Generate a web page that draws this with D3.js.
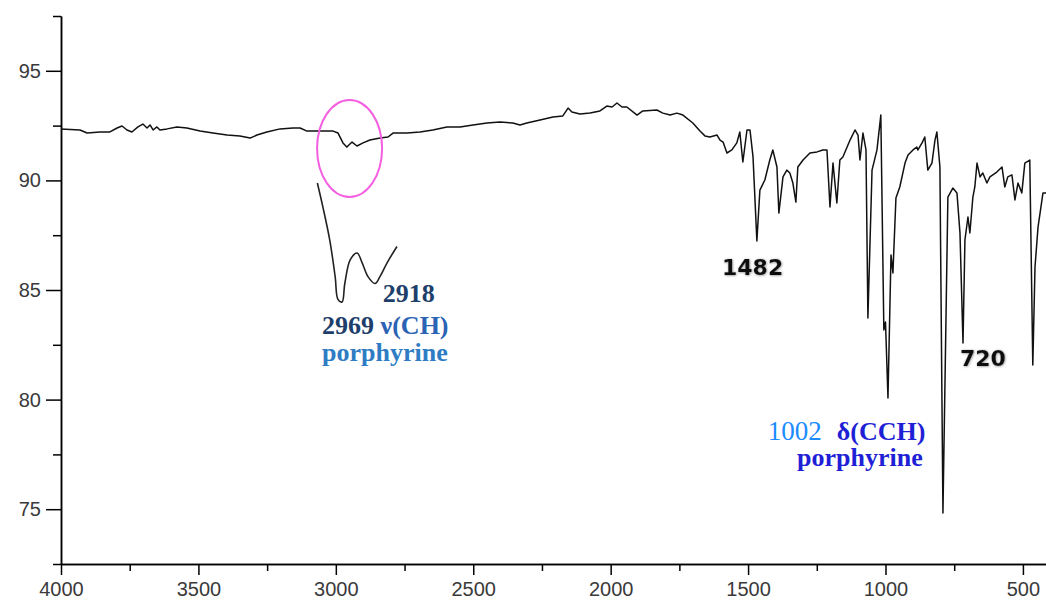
<!DOCTYPE html>
<html>
<head>
<meta charset="utf-8">
<script src="https://cdn.jsdelivr.net/npm/d3@7"></script>
<style>
  body { margin: 0; background: #fff; }
  .axis path, .axis line { stroke: #000; stroke-width: 1.5; }
  .axis text { font-family: "Liberation Sans", Arial, sans-serif; fill: #3a3a3a; }
</style>
</head>
<body>
<script>
// IR spectrum, % transmittance vs wavenumber (cm-1)
var wavenumber = [4000, 3931, 3905, 3858, 3822, 3796, 3778, 3760, 3742, 3720, 3702, 3687, 3676, 3665, 3651, 3640,
  3614, 3578, 3542, 3494, 3447, 3396, 3349, 3312, 3287, 3251, 3203, 3156, 3130, 3105, 3058, 3010, 2992,
  2974, 2960, 2941, 2923, 2901, 2876, 2839, 2810, 2792, 2741, 2694, 2647, 2596, 2548, 2501, 2450, 2403,
  2356, 2330, 2305, 2257, 2210, 2174, 2155, 2141, 2112, 2075, 2039, 2014, 1995, 1977, 1959, 1941, 1904,
  1883, 1832, 1810, 1784, 1759, 1737, 1701, 1675, 1657, 1639, 1613, 1602, 1591, 1577, 1559, 1541, 1530,
  1519, 1504, 1493, 1482, 1468, 1457, 1439, 1421, 1410, 1395, 1388, 1373, 1359, 1348, 1337, 1326, 1319,
  1300, 1275, 1249, 1228, 1213, 1202, 1191, 1177, 1166, 1155, 1129, 1111, 1100, 1093, 1082, 1071, 1064,
  1049, 1031, 1017, 1006, 1000, 991, 980, 973, 962, 948, 929, 918, 900, 886, 882, 867, 857, 846, 831,
  820, 813, 802, 791, 773, 755, 740, 729, 718, 711, 700, 693, 682, 675, 667, 656, 646, 631, 620, 595,
  576, 566, 555, 540, 529, 518, 504, 493, 475, 464, 456, 445, 427, 416];
var transmittance = [92.35, 92.30, 92.16, 92.21, 92.21, 92.39, 92.48, 92.30, 92.21, 92.44, 92.57, 92.39, 92.53, 92.30, 92.44, 92.30,
  92.35, 92.44, 92.39, 92.25, 92.16, 92.07, 92.03, 91.93, 92.07, 92.21, 92.35, 92.39, 92.39, 92.25, 92.25, 92.25, 92.16,
  91.71, 91.52, 91.75, 91.57, 91.71, 91.84, 91.93, 91.98, 92.16, 92.16, 92.21, 92.30, 92.44, 92.44, 92.53, 92.62, 92.66,
  92.62, 92.53, 92.62, 92.76, 92.89, 92.94, 93.30, 93.12, 93.03, 93.07, 93.17, 93.39, 93.35, 93.53, 93.35, 93.35, 92.98,
  93.17, 93.21, 93.07, 92.98, 93.07, 92.98, 92.62, 92.25, 92.03, 91.98, 92.07, 91.84, 91.75, 91.25, 91.39, 91.71, 92.21,
  90.84, 92.30, 92.30, 91.07, 87.24, 89.56, 90.02, 90.93, 91.39, 90.61, 88.51, 90.16, 90.47, 90.34, 89.88, 89.01, 90.61,
  90.93, 91.25, 91.30, 91.39, 91.39, 88.79, 90.79, 88.97, 90.93, 91.07, 91.84, 92.30, 92.07, 90.93, 92.16, 91.39, 83.72,
  90.47, 91.39, 92.98, 83.18, 83.54, 80.07, 86.60, 85.78, 89.20, 89.70, 90.79, 91.16, 91.39, 91.52, 91.39, 91.71, 91.98, 90.47, 90.79,
  91.84, 92.21, 90.61, 74.83, 89.24, 89.65, 89.43, 87.60, 82.58, 87.28, 88.33, 87.60, 89.24, 89.70, 90.79, 90.16, 90.34, 89.88, 90.16, 90.38,
  90.61, 89.70, 90.16, 90.25, 89.11, 89.88, 89.43, 90.79, 90.93, 81.58, 86.05, 87.87, 89.43, 89.43];

// magnified inset of the C-H stretching region
var insetWavenumber = [3002, 2994, 2984, 2976, 2972, 2966, 2962, 2954, 2944, 2937, 2928, 2918, 2911, 2900, 2886];
var insetTransmittance = [92.30, 92.12, 91.87, 91.59, 91.42, 91.40, 91.54, 91.72, 91.77, 91.70, 91.59, 91.54, 91.59, 91.70, 91.82];

var xTicks = [4000, 3500, 3000, 2500, 2000, 1500, 1000, 500];
var xMinor = [3750, 3250, 2750, 2250, 1750, 1250, 750];
var yTicks = [75, 80, 85, 90, 95];
var yMinor = [72.5, 77.5, 82.5, 87.5, 92.5, 97.5];

var width = 1046, height = 606;

var svg = d3.select("body").append("svg")
    .attr("width", width)
    .attr("height", height);

var x = d3.scaleLinear().domain([4000, 416]).range([61, 1046]);
var y = d3.scaleLinear().domain([72.5, 97.5]).range([564, 16]);

// axes
svg.append("g")
    .attr("class", "axis")
    .attr("transform", "translate(0,564)")
    .call(d3.axisBottom(x).tickValues(xMinor).tickSize(7).tickSizeOuter(0).tickFormat(""));

svg.append("g")
    .attr("class", "axis")
    .attr("transform", "translate(0,564)")
    .call(d3.axisBottom(x).tickValues(xTicks).tickSize(11).tickSizeOuter(0).tickPadding(7)
        .tickFormat(d3.format("d")))
    .call(function(g) { g.selectAll("text").style("font-size", "20px"); });

svg.append("g")
    .attr("class", "axis")
    .attr("transform", "translate(61,0)")
    .call(d3.axisLeft(y).tickValues(yMinor).tickSize(8).tickSizeOuter(0).tickFormat(""));

svg.append("g")
    .attr("class", "axis")
    .attr("transform", "translate(61,0)")
    .call(d3.axisLeft(y).tickValues(yTicks).tickSize(15).tickSizeOuter(0).tickPadding(5))
    .call(function(g) { g.selectAll("text").style("font-size", "20px"); });

// spectrum
var line = d3.line()
    .x(function(d) { return x(d[0]); })
    .y(function(d) { return y(d[1]); });

svg.append("path")
    .datum(d3.zip(wavenumber, transmittance))
    .attr("fill", "none")
    .attr("stroke", "#111")
    .attr("stroke-width", 1.5)
    .attr("stroke-linejoin", "round")
    .attr("d", line);

// circled region
svg.append("ellipse")
    .attr("cx", x(2950))
    .attr("cy", y(91.46))
    .attr("rx", 32.5)
    .attr("ry", 48.5)
    .attr("fill", "none")
    .attr("stroke", "#f45ee0")
    .attr("stroke-width", 2);

// inset, own scales
var ix = d3.scaleLinear().domain([2969, 2918]).range([340, 375]);
var iy = d3.scaleLinear().domain([91.4, 92.3]).range([302, 183]);

svg.append("path")
    .datum(d3.zip(insetWavenumber, insetTransmittance))
    .attr("fill", "none")
    .attr("stroke", "#222")
    .attr("stroke-width", 1.6)
    .attr("d", d3.line().curve(d3.curveCatmullRom)
        .x(function(d) { return ix(d[0]); })
        .y(function(d) { return iy(d[1]); }));

// labels
var defs = svg.append("defs");
defs.append("filter").attr("id", "halo")
  .append("feDropShadow")
    .attr("dx", 0.5).attr("dy", 0.5)
    .attr("stdDeviation", 1)
    .attr("flood-color", "#888");

function label(wn, t, str, opts) {
  return svg.append("text")
      .attr("x", x(wn))
      .attr("y", y(t))
      .style("font-family", opts.font)
      .style("font-size", opts.size + "px")
      .style("font-weight", opts.weight || "bold")
      .style("fill", opts.color)
      .text(str);
}

var serif = '"Liberation Serif", "Times New Roman", serif';
var sans = '"DejaVu Sans", Verdana, sans-serif';

label(1595, 85.68, "1482", {font: sans, size: 22, color: "#111"}).attr("filter", "url(#halo)");
label(729, 81.53, "720", {font: sans, size: 22, color: "#111"}).attr("filter", "url(#halo)");

label(2829, 84.45, "2918", {font: serif, size: 26, color: "#1e3f6b"});
var t1 = label(3050, 82.99, "", {font: serif, size: 26, color: "#1e3f6b"});
t1.append("tspan").text("2969 ");
t1.append("tspan").style("fill", "#2b63b5").text("ν(CH)");
label(3050, 81.76, "porphyrine", {font: serif, size: 26, color: "#2e7cc4"});

label(1428, 78.16, "1002", {font: serif, size: 27, color: "#1a8cff", weight: "normal"});
label(1177, 78.16, "δ(CCH)", {font: serif, size: 26, color: "#1f1fd6"});
label(1322, 76.97, "porphyrine", {font: serif, size: 26, color: "#1f1fd6"});
</script>
</body>
</html>
